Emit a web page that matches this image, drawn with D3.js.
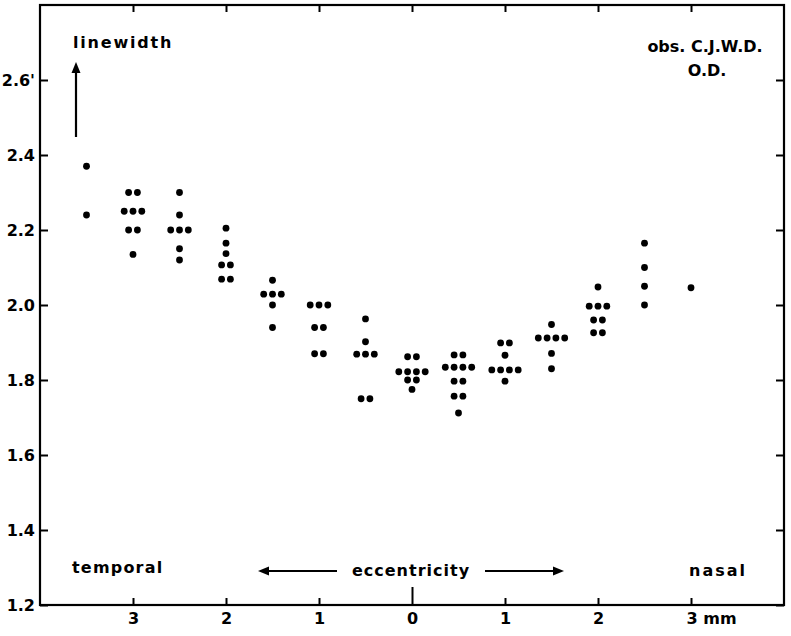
<!DOCTYPE html>
<html>
<head>
<meta charset="utf-8">
<script src="https://cdn.jsdelivr.net/npm/d3@7"></script>
<style>
body { margin: 0; background: #fff; }
text { font-family: "DejaVu Sans", sans-serif; font-weight: bold; fill: #000; }
</style>
</head>
<body>
<div id="chart"></div>
<script>
const width = 791, height = 636;
const frame = {left: 40, right: 784, top: 5, bottom: 605};

// eccentricity of each column of observations (mm, temporal negative)
const columns = [-3.5, -3, -2.5, -2, -1.5, -1, -0.5, 0, 0.5, 1, 1.5, 2, 2.5, 3];
// linewidth readings (arc min) per column
const linewidths = [
    [2.37, 2.24],
    [2.30, 2.30, 2.25, 2.25, 2.25, 2.20, 2.20, 2.135],
    [2.30, 2.24, 2.20, 2.20, 2.20, 2.15, 2.12],
    [2.205, 2.165, 2.137, 2.107, 2.107, 2.069, 2.069],
    [2.066, 2.029, 2.029, 2.029, 2.00, 1.94],
    [2.00, 2.00, 2.00, 1.94, 1.94, 1.87, 1.87],
    [1.963, 1.902, 1.869, 1.869, 1.869, 1.75, 1.75],
    [1.862, 1.862, 1.822, 1.822, 1.822, 1.822, 1.80, 1.80, 1.775],
    [1.867, 1.867, 1.834, 1.834, 1.834, 1.834, 1.797, 1.797, 1.757, 1.757, 1.712],
    [1.899, 1.899, 1.866, 1.827, 1.827, 1.827, 1.827, 1.797],
    [1.948, 1.912, 1.912, 1.912, 1.912, 1.871, 1.83],
    [2.048, 1.997, 1.997, 1.997, 1.96, 1.96, 1.926, 1.926],
    [2.165, 2.10, 2.05, 2.00],
    [2.046]
];

const yTicks = [1.2, 1.4, 1.6, 1.8, 2.0, 2.2, 2.4, 2.6];
const yTickLabels = ['1.2', '1.4', '1.6', '1.8', '2.0', '2.2', '2.4', "2.6'"];
const xTicks = [-3, -2, -1, 0, 1, 2, 3];
const xTickLabels = ['3', '2', '1', '0', '1', '2', '3'];

const xScale = d3.scaleLinear().domain([-4, 4]).range([frame.left, frame.right]);
const yScale = d3.scaleLinear().domain([1.2, 2.8]).range([frame.bottom, frame.top]);

const svg = d3.select('#chart').append('svg')
    .attr('width', width)
    .attr('height', height);

// points: equal readings in a column sit side by side
let points = [];
columns.forEach(function(c, i) {
    const counts = d3.rollup(linewidths[i], v => v.length, d => d);
    const seen = new Map();
    linewidths[i].forEach(function(v) {
        const k = seen.get(v) || 0;
        seen.set(v, k + 1);
        points.push({ecc: c, lw: v, slot: k - (counts.get(v) - 1) / 2});
    });
});

svg.append('g').selectAll('.dot')
    .data(points)
    .enter().append('circle')
        .attr('class', 'dot')
        .attr('cx', d => xScale(d.ecc) + d.slot * 8.8)
        .attr('cy', d => yScale(d.lw))
        .attr('r', 3.4)
        .attr('fill', '#000');

// frame
svg.append('rect')
    .attr('x', frame.left).attr('y', frame.top)
    .attr('width', frame.right - frame.left)
    .attr('height', frame.bottom - frame.top)
    .attr('fill', 'none')
    .attr('stroke', '#000')
    .attr('stroke-width', 2.2);

function styleAxis(g) {
    g.select('.domain').remove();
    g.selectAll('.tick line').attr('stroke', '#000').attr('stroke-width', 2);
    g.attr('font-family', null).attr('font-size', 16);
}

svg.append('g')
    .attr('transform', 'translate(' + frame.left + ',0)')
    .call(d3.axisLeft(yScale).tickValues(yTicks).tickSize(-8).tickPadding(5)
        .tickFormat((d, i) => yTickLabels[i]))
    .call(styleAxis);

svg.append('g')
    .attr('transform', 'translate(' + frame.right + ',0)')
    .call(d3.axisRight(yScale).tickValues(yTicks).tickSize(-8).tickFormat(''))
    .call(styleAxis);

svg.append('g')
    .attr('transform', 'translate(0,' + frame.top + ')')
    .call(d3.axisTop(xScale).tickValues(xTicks).tickSize(-7).tickFormat(''))
    .call(styleAxis);

const xAxis = svg.append('g')
    .attr('transform', 'translate(0,' + frame.bottom + ')')
    .call(d3.axisBottom(xScale).tickValues(xTicks).tickSize(-7).tickPadding(8)
        .tickFormat((d, i) => xTickLabels[i]))
    .call(styleAxis);

xAxis.selectAll('.tick').filter(d => d === 0).select('line').attr('y2', -18);
xAxis.selectAll('.tick').filter(d => d === 3).select('text')
    .attr('text-anchor', 'start').attr('x', -5).text('3 mm');

// annotations
function arrow(x1, y1, x2, y2) {
    const a = Math.atan2(y2 - y1, x2 - x1), L = 11, W = 4.5;
    const bx = x2 - L * Math.cos(a), by = y2 - L * Math.sin(a);
    svg.append('line')
        .attr('x1', x1).attr('y1', y1).attr('x2', bx).attr('y2', by)
        .attr('stroke', '#000').attr('stroke-width', 2.2);
    svg.append('path')
        .attr('d', 'M' + x2 + ',' + y2 +
            'L' + (bx - W * Math.sin(a)) + ',' + (by + W * Math.cos(a)) +
            'L' + (bx + W * Math.sin(a)) + ',' + (by - W * Math.cos(a)) + 'Z')
        .attr('fill', '#000');
}

arrow(76, 137, 76, 62);
arrow(337, 571, 258, 571);
arrow(485, 571, 564, 571);

function label(x, y, txt, anchor, spacing) {
    svg.append('text')
        .attr('x', x).attr('y', y)
        .attr('text-anchor', anchor)
        .attr('font-size', 16)
        .attr('letter-spacing', spacing)
        .text(txt);
}

label(73, 48, 'linewidth', 'start', 1.8);
label(705, 52, 'obs. C.J.W.D.', 'middle', 0);
label(707, 76, 'O.D.', 'middle', 0);
label(72, 573, 'temporal', 'start', 1.2);
label(411, 576, 'eccentricity', 'middle', 1);
label(747, 576, 'nasal', 'end', 2);
</script>
</body>
</html>
